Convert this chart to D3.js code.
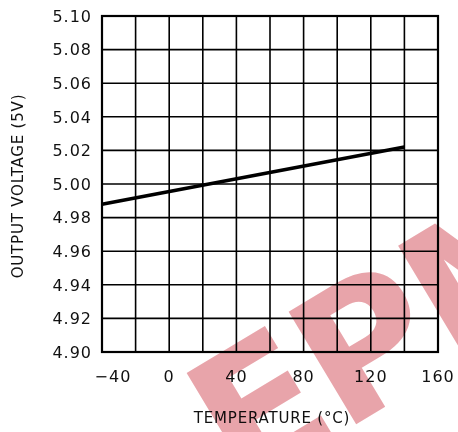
<!DOCTYPE html>
<html lang="en">
<head>
<meta charset="utf-8">
<title>Output voltage vs temperature</title>
<script src="https://cdn.jsdelivr.net/npm/d3@7"></script>
<style>
  body { margin: 0; background: #fff; }
  text { font-family: "DejaVu Sans", sans-serif; fill: #111; }
</style>
</head>
<body>
<script>
// data
var temps = [-40, 140];
var volts = [4.988, 5.022];
var xTicks = [-40, 0, 40, 80, 120, 160];
var yTicks = [4.90, 4.92, 4.94, 4.96, 4.98, 5.00, 5.02, 5.04, 5.06, 5.08, 5.10];

var width = 458, height = 432;
var plotL = 102, plotR = 438, plotT = 16, plotB = 352;

var svg = d3.select("body").append("svg")
  .attr("width", width)
  .attr("height", height);

var x = d3.scaleLinear().domain([-40, 160]).range([plotL, plotR]);
var y = d3.scaleLinear().domain([4.90, 5.10]).range([plotB, plotT]);

// grid
var grid = svg.append("g").attr("stroke", "#000").attr("stroke-width", 1.6);
grid.selectAll("line.v")
  .data(d3.range(-40, 161, 20))
  .enter().append("line")
    .attr("x1", d => x(d)).attr("x2", d => x(d))
    .attr("y1", plotT).attr("y2", plotB);
grid.selectAll("line.h")
  .data(yTicks)
  .enter().append("line")
    .attr("x1", plotL).attr("x2", plotR)
    .attr("y1", d => y(d)).attr("y2", d => y(d));
svg.append("rect")
  .attr("x", plotL).attr("y", plotT)
  .attr("width", plotR - plotL).attr("height", plotB - plotT)
  .attr("fill", "none").attr("stroke", "#000").attr("stroke-width", 2.2);

// data line
var line = d3.line().x((d, i) => x(temps[i])).y(d => y(d));
svg.append("path")
  .datum(volts)
  .attr("d", line)
  .attr("fill", "none")
  .attr("stroke", "#000")
  .attr("stroke-width", 3.6);

// y tick labels
svg.append("g").selectAll("text")
  .data(yTicks)
  .enter().append("text")
    .attr("x", 92)
    .attr("y", d => y(d))
    .attr("dy", "0.36em")
    .attr("text-anchor", "end")
    .attr("font-size", 16)
    .attr("letter-spacing", 1)
    .text(d => d.toFixed(2));

// x tick labels
svg.append("g").selectAll("text")
  .data(xTicks)
  .enter().append("text")
    .attr("x", (d, i) => x(d) + (i == 0 ? 11 : 0))
    .attr("y", 376)
    .attr("dy", "0.36em")
    .attr("text-anchor", "middle")
    .attr("font-size", 16)
    .attr("letter-spacing", 1)
    .text(d => d < 0 ? "\u2212" + Math.abs(d) : d);

// axis titles
svg.append("text")
  .attr("transform", "translate(18,186) rotate(-90)")
  .attr("text-anchor", "middle")
  .attr("dy", "0.36em")
  .attr("font-size", 15)
  .attr("letter-spacing", 0.8)
  .text("OUTPUT VOLTAGE (5V)");

svg.append("text")
  .attr("x", 272).attr("y", 418)
  .attr("text-anchor", "middle")
  .attr("dy", "0.36em")
  .attr("font-size", 15)
  .attr("letter-spacing", 0.8)
  .text("TEMPERATURE (\u00B0C)");

// watermark
svg.append("text")
  .attr("transform", "translate(240,494) rotate(-31)")
  .attr("font-size", 180)
  .attr("font-weight", "bold")
  .attr("letter-spacing", -4)
  .style("fill", "#e0868e")
  .style("opacity", 0.75)
  .style("mix-blend-mode", "multiply")
  .text("EPM");
</script>
</body>
</html>
